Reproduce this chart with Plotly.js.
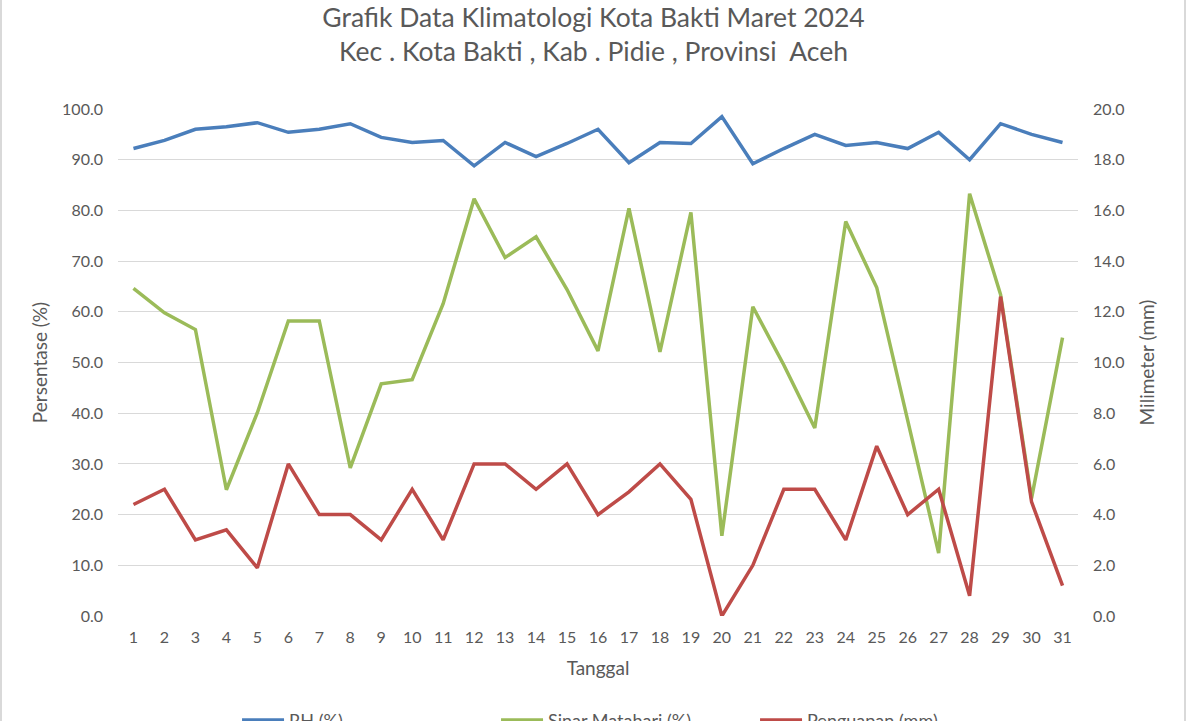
<!DOCTYPE html>
<html>
<head>
<meta charset="utf-8">
<script src="https://cdn.plot.ly/plotly-3.0.1.min.js"></script>
<style>html,body{margin:0;padding:0;background:#fff;}#chart{width:1187px;height:721px;}</style>
</head>
<body>
<div id="chart"></div>
<script>
const days = Array.from({length: 31}, (_, i) => String(i + 1));
const rh = [92.2, 93.8, 96.0, 96.5, 97.3, 95.4, 96.0, 97.1, 94.4, 93.4, 93.8, 88.8, 93.4, 90.6, 93.2, 96.0, 89.4, 93.4, 93.2, 98.5, 89.2, 92.2, 95.0, 92.8, 93.4, 92.2, 95.4, 90.0, 97.1, 95.0, 93.4];
const sinar = [64.6, 59.8, 56.5, 24.9, 40.1, 58.2, 58.2, 29.2, 45.8, 46.6, 61.6, 82.3, 70.7, 74.8, 64.4, 52.3, 80.4, 52.1, 79.6, 15.8, 61.0, 49.5, 37.1, 77.8, 64.8, 38.3, 12.4, 83.3, 63.4, 23.2, 54.9];
const penguapan = [4.4, 5.0, 3.0, 3.4, 1.9, 6.0, 4.0, 4.0, 3.0, 5.0, 3.0, 6.0, 6.0, 5.0, 6.0, 4.0, 4.9, 6.0, 4.6, 0.0, 2.0, 5.0, 5.0, 3.0, 6.7, 4.0, 5.0, 0.8, 12.6, 4.5, 1.2];
const seriesNames = ['RH (%)', 'Sinar Matahari (%)', 'Penguapan (mm)'];

const font = 'Lato, "Liberation Sans", sans-serif';
const grey = '#595959';

const traces = [
  {x: days, y: rh, name: seriesNames[0], type: 'scatter', mode: 'lines', line: {color: '#4A7EBB', width: 3.5}},
  {x: days, y: sinar, name: seriesNames[1], type: 'scatter', mode: 'lines', line: {color: '#9BBB59', width: 3.5}},
  {x: days, y: penguapan, name: seriesNames[2], type: 'scatter', mode: 'lines', yaxis: 'y2', line: {color: '#BE4B48', width: 3.5}}
];

const layout = {
  width: 1187, height: 721,
  paper_bgcolor: '#fff', plot_bgcolor: '#fff',
  font: {family: font, color: grey, size: 16},
  margin: {l: 118, r: 109, t: 109, b: 105, autoexpand: false},
  title: {
    text: 'Grafik Data Klimatologi Kota Bakti Maret 2024<br>Kec . Kota Bakti , Kab . Pidie , Provinsi  Aceh',
    font: {family: font, size: 26.5, color: grey},
    x: 0.5, xanchor: 'center', y: 0.963, yanchor: 'middle', yref: 'container'
  },
  xaxis: {
    type: 'category', range: [-0.5, 30.5],
    showgrid: false, zeroline: false, showline: false, ticks: '',
    tickfont: {size: 16, color: grey}, ticklabelstandoff: 10,
    title: {text: 'Tanggal', font: {size: 19, color: grey}, standoff: 16}
  },
  yaxis: {
    range: [0, 100], dtick: 10, tickformat: '.1f',
    showgrid: true, gridcolor: '#D9D9D9', gridwidth: 1, zeroline: false, showline: false, ticks: '',
    tickfont: {size: 16, color: grey}, ticklabelstandoff: 14,
    title: {text: 'Persentase (%)', font: {size: 19, color: grey}, standoff: 9}
  },
  yaxis2: {
    overlaying: 'y', side: 'right', range: [0, 20], dtick: 2, tickformat: '.1f',
    showgrid: false, zeroline: false, showline: false, ticks: '',
    tickfont: {size: 16, color: grey}, ticklabelstandoff: 14,
    title: {text: 'Milimeter (mm)', font: {size: 19, color: grey}, standoff: 17}
  },
  showlegend: true,
  legend: {
    orientation: 'h', x: 0.124, xanchor: 'left', y: -0.169, yanchor: 'top',
    font: {size: 18, color: grey}, entrywidth: 202, itemwidth: 42,
    bgcolor: 'rgba(0,0,0,0)'
  },
  shapes: [
    {type: 'line', xref: 'paper', yref: 'paper', x0: -117/960, x1: -117/960, y0: -105/507, y1: 1 + 109/507, line: {width: 2, color: '#D9D9D9'}},
    {type: 'line', xref: 'paper', yref: 'paper', x0: 1 + 107/960, x1: 1 + 107/960, y0: -105/507, y1: 1 + 109/507, line: {width: 2, color: '#D9D9D9'}}
  ]
};

Plotly.newPlot('chart', traces, layout, {staticPlot: true, displayModeBar: false});
</script>
</body>
</html>
